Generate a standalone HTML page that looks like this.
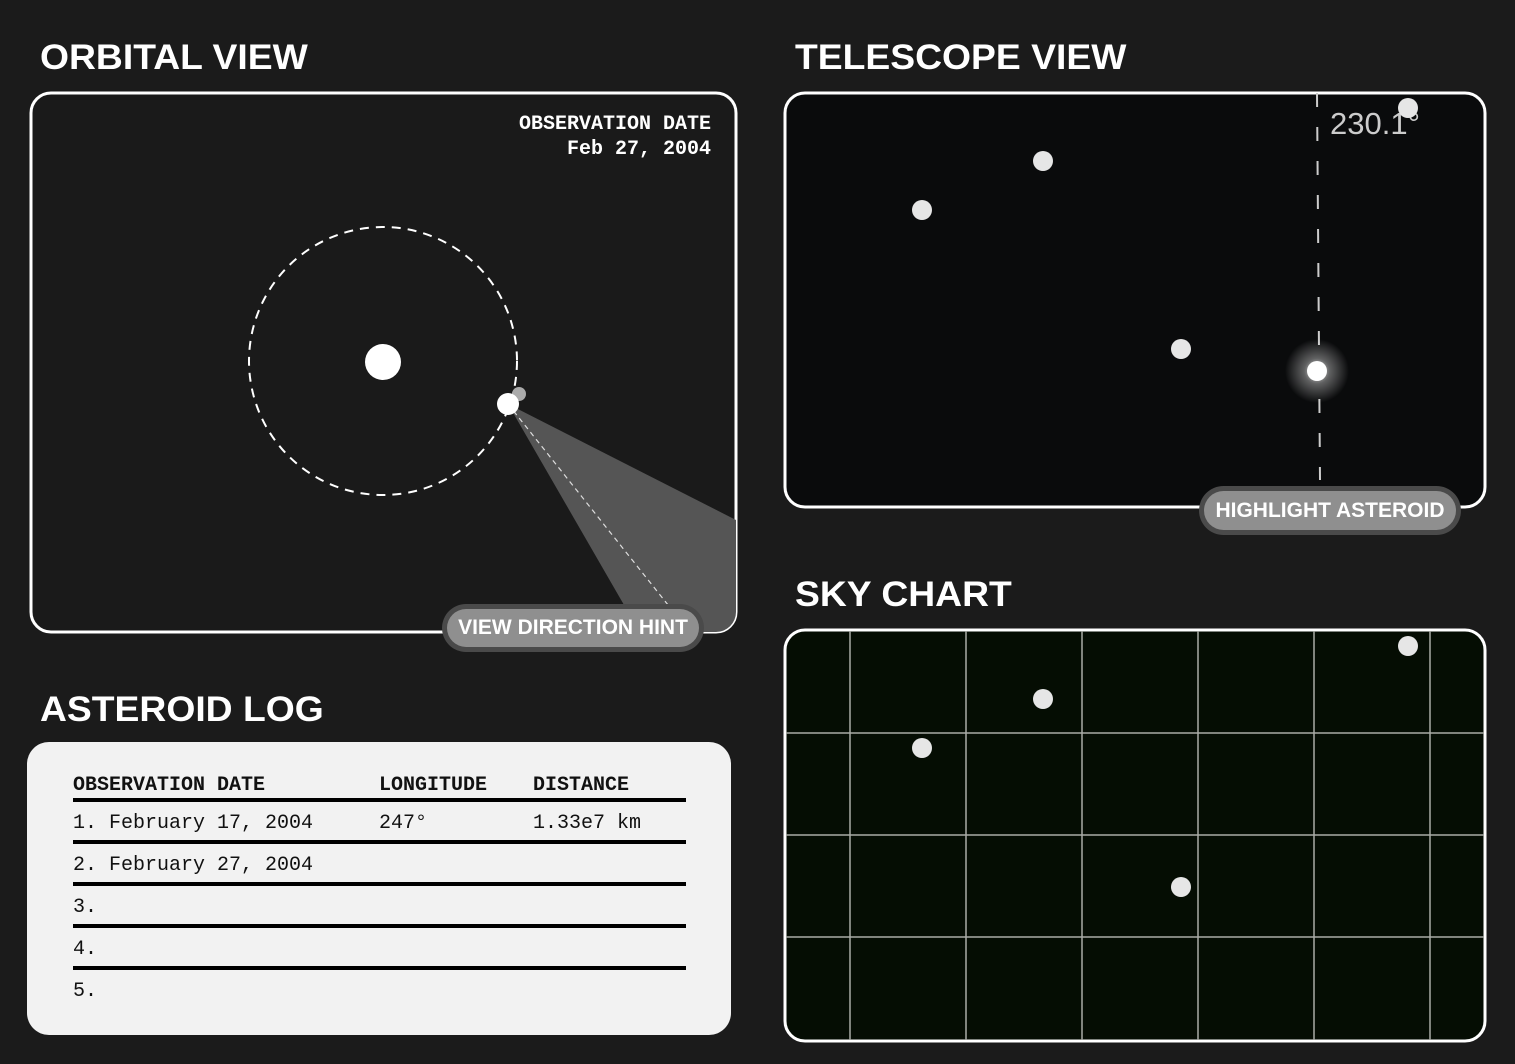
<!DOCTYPE html>
<html><head><meta charset="utf-8"><style>
html,body{margin:0;padding:0;background:#1b1b1b;width:1515px;height:1064px;overflow:hidden;position:relative}
.t{position:absolute;color:#fff;font-family:"Liberation Sans",sans-serif;font-weight:bold;font-size:35px;letter-spacing:0px;transform:scaleX(1.065);transform-origin:left}
.mono{font-family:"Liberation Mono",monospace}
.btn{position:absolute;border-radius:26px;background:#4a4a4a;padding:5px;box-sizing:border-box}
.btn div{background:#8f8f8f;border-radius:20px;height:100%;color:#fff;font-family:"Liberation Sans",sans-serif;font-weight:bold;font-size:21px;display:flex;align-items:center;justify-content:center}
</style></head><body>
<div class="t" style="left:40px;top:38px">ORBITAL VIEW</div>
<div class="t" style="left:795px;top:38px">TELESCOPE VIEW</div>
<div class="t" style="left:795px;top:575px">SKY CHART</div>
<div class="t" style="left:40px;top:690px">ASTEROID LOG</div>

<svg style="position:absolute;left:0;top:0" width="760" height="660">
<defs><clipPath id="oc"><rect x="31" y="93" width="705" height="539" rx="20"/></clipPath></defs>
<rect x="31" y="93" width="705" height="539" rx="20" fill="#1a1a1a" stroke="#fff" stroke-width="3"/>
<g clip-path="url(#oc)">
<polygon points="508,404 740,522 740,700 650,650" fill="#555"/>
<line x1="508" y1="404" x2="680" y2="620" stroke="#ddd" stroke-width="1.2" stroke-dasharray="5,4"/>
</g>
<circle cx="383" cy="361" r="134" fill="none" stroke="#fff" stroke-width="2" stroke-dasharray="9,7"/>
<circle cx="383" cy="362" r="18" fill="#fff"/>
<circle cx="519" cy="394" r="7" fill="#aaa"/>
<circle cx="508" cy="404" r="11" fill="#fff"/>
<text x="711" y="129" text-anchor="end" fill="#fff" font-family="Liberation Mono" font-size="20" font-weight="bold">OBSERVATION DATE</text>
<text x="711" y="154" text-anchor="end" fill="#fff" font-family="Liberation Mono" font-size="20" font-weight="bold">Feb 27, 2004</text>
</svg>
<div class="btn" style="left:442px;top:604px;width:262px;height:48px"><div>VIEW DIRECTION HINT</div></div>

<svg id="tel" style="position:absolute;left:0;top:0" width="1515" height="1064">
<defs>
<radialGradient id="glow"><stop offset="0" stop-color="#fff" stop-opacity="0.9"/><stop offset="0.4" stop-color="#fff" stop-opacity="0.35"/><stop offset="1" stop-color="#fff" stop-opacity="0"/></radialGradient>
<clipPath id="sc"><rect x="786" y="631" width="698" height="409" rx="20"/></clipPath>
</defs>
<rect x="785" y="93" width="700" height="414" rx="20" fill="#0a0b0c" stroke="#fff" stroke-width="3"/>
<line x1="1317" y1="93" x2="1320" y2="480" stroke="#ccc" stroke-width="2" stroke-dasharray="14,20"/>
<text x="1330" y="134" fill="#ccc" font-family="Liberation Sans" font-size="31">230.1°</text>
<g id="telStars"></g>
<circle cx="1317" cy="371" r="32" fill="url(#glow)"/>
<circle cx="1317" cy="371" r="10" fill="#fff"/>
<rect x="785" y="630" width="700" height="411" rx="20" fill="#050d03" stroke="#fff" stroke-width="3"/>
<g id="grid" clip-path="url(#sc)"></g>
<g id="skyStars"></g>
</svg>
<div class="btn" style="left:1199px;top:486px;width:262px;height:49px"><div>HIGHLIGHT ASTEROID</div></div>

<div style="position:absolute;left:27px;top:742px;width:704px;height:293px;background:#f2f2f2;border-radius:22px"></div>
<div class="mono" style="position:absolute;left:73px;top:774px;width:613px;font-size:20px;color:#111">
<div style="height:24px;border-bottom:4px solid #000;font-weight:bold;position:relative">
<span style="position:absolute;left:0;top:0">OBSERVATION DATE</span><span style="position:absolute;left:306px">LONGITUDE</span><span style="position:absolute;left:460px">DISTANCE</span></div>
<div style="height:38px;border-bottom:4px solid #000;position:relative"><span style="position:absolute;left:0;top:10px">1. February 17, 2004</span><span style="position:absolute;left:306px;top:10px">247°</span><span style="position:absolute;left:460px;top:10px">1.33e7 km</span></div>
<div style="height:38px;border-bottom:4px solid #000;position:relative"><span style="position:absolute;left:0;top:10px">2. February 27, 2004</span></div>
<div style="height:38px;border-bottom:4px solid #000;position:relative"><span style="position:absolute;left:0;top:10px">3.</span></div>
<div style="height:38px;border-bottom:4px solid #000;position:relative"><span style="position:absolute;left:0;top:10px">4.</span></div>
<div style="height:38px;position:relative"><span style="position:absolute;left:0;top:10px">5.</span></div>
</div>

<script>
const starX=[1043,922,1181,1408];
const starY=[161,210,349,108];
const gridCols=[850,966,1082,1198,1314,1430];
const gridRows=[733,835,937];
const NS="http://www.w3.org/2000/svg";
const skyOffset=538;
function mk(tag,attrs){const e=document.createElementNS(NS,tag);for(const k in attrs)e.setAttribute(k,attrs[k]);return e;}
const ts=document.getElementById('telStars'),ss=document.getElementById('skyStars'),g=document.getElementById('grid');
starX.forEach((x,i)=>{
 const c=mk('circle',{cx:x,cy:starY[i],r:10,fill:'#e6e6e6'});
 
 
 ts.appendChild(c);
 const d=mk('circle',{cx:x,cy:starY[i]+skyOffset,r:10,fill:'#e6e6e6'});
 
 
 ss.appendChild(d);
});
gridCols.forEach(x=>{const l=mk('line',{x1:x,y1:630,x2:x,y2:1042,stroke:'#a9aca6','stroke-width':1.5});
 
 
 g.appendChild(l);});
gridRows.forEach(y=>{const l=mk('line',{x1:784,y1:y,x2:1486,y2:y,stroke:'#a9aca6','stroke-width':1.5});
 
 
 g.appendChild(l);});
</script>
</body></html>
